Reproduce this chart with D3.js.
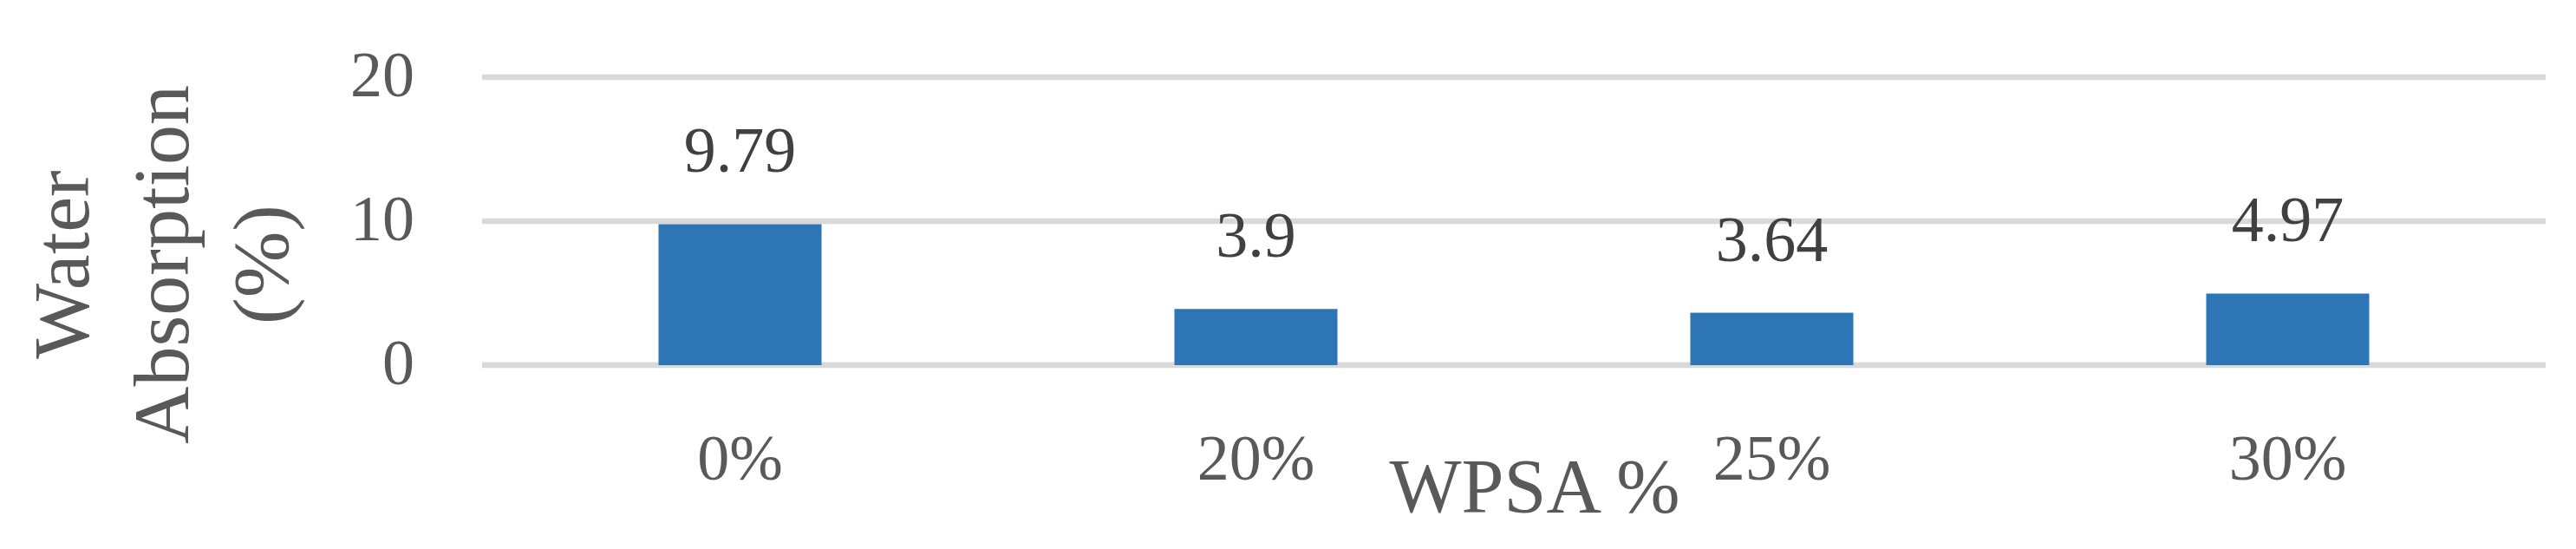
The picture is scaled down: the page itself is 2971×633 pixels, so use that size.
<!DOCTYPE html>
<html>
<head>
<meta charset="utf-8">
<script src="https://cdn.jsdelivr.net/npm/d3@7"></script>
<style>
  html, body { margin: 0; padding: 0; background: #fff; }
  text { font-family: "Liberation Serif", "DejaVu Serif", serif; }
</style>
</head>
<body>
<div id="chart"></div>
<script>
// data
const categories = ["0%", "20%", "25%", "30%"];
const values = [9.79, 3.9, 3.64, 4.97];
const yTicks = [0, 10, 20];

const width = 2971;
const height = 633;
const plot = { left: 556, right: 2936, top: 89, bottom: 421 };

const svg = d3.select("#chart")
    .append("svg")
    .attr("width", width)
    .attr("height", height);

svg.append("rect")
    .attr("width", width)
    .attr("height", height)
    .attr("fill", "#fff");

const x = d3.scaleBand()
    .domain(categories)
    .range([plot.left, plot.right])
    .paddingInner(0.684)
    .paddingOuter(0.342);

const y = d3.scaleLinear()
    .domain([0, 20])
    .range([plot.bottom, plot.top]);

// gridlines
svg.selectAll(".grid")
    .data(yTicks)
    .join("line")
    .attr("class", "grid")
    .attr("x1", plot.left)
    .attr("x2", plot.right)
    .attr("y1", d => y(d))
    .attr("y2", d => y(d))
    .attr("stroke", "#d9d9d9")
    .attr("stroke-width", 6.5);

// y tick labels
svg.selectAll(".ytick")
    .data(yTicks)
    .join("text")
    .attr("class", "ytick")
    .attr("x", 478)
    .attr("y", d => y(d))
    .attr("dy", "0.3em")
    .attr("text-anchor", "end")
    .attr("fill", "#595959")
    .style("font-size", "74px")
    .text(d => d);

// bars
svg.selectAll(".bar")
    .data(values)
    .join("rect")
    .attr("class", "bar")
    .attr("x", (d, i) => x(categories[i]))
    .attr("width", x.bandwidth())
    .attr("y", d => y(d))
    .attr("height", d => y(0) - y(d))
    .attr("fill", "#2E75B6");

// value labels
svg.selectAll(".val")
    .data(values)
    .join("text")
    .attr("class", "val")
    .attr("x", (d, i) => x(categories[i]) + x.bandwidth() / 2)
    .attr("y", d => y(d) - 60)
    .attr("text-anchor", "middle")
    .attr("fill", "#404040")
    .style("font-size", "74px")
    .text(d => d);

// x tick labels
svg.selectAll(".xtick")
    .data(categories)
    .join("text")
    .attr("class", "xtick")
    .attr("x", d => x(d) + x.bandwidth() / 2)
    .attr("y", 553)
    .attr("text-anchor", "middle")
    .attr("fill", "#595959")
    .style("font-size", "74px")
    .text(d => d);

// x axis title
svg.append("text")
    .attr("x", 1770)
    .attr("y", 590)
    .attr("text-anchor", "middle")
    .attr("fill", "#595959")
    .style("font-size", "88px")
    .text("WPSA %");

// y axis title (three lines, rotated)
const yTitle = svg.append("text")
    .attr("transform", "translate(102,305) rotate(-90)")
    .attr("text-anchor", "middle")
    .attr("fill", "#595959")
    .style("font-size", "92px");

["Water", "Absorption", "(%)"].forEach((t, i) => {
    yTitle.append("tspan")
        .attr("x", 0)
        .attr("dy", i === 0 ? 0 : 115)
        .text(t);
});
</script>
</body>
</html>
